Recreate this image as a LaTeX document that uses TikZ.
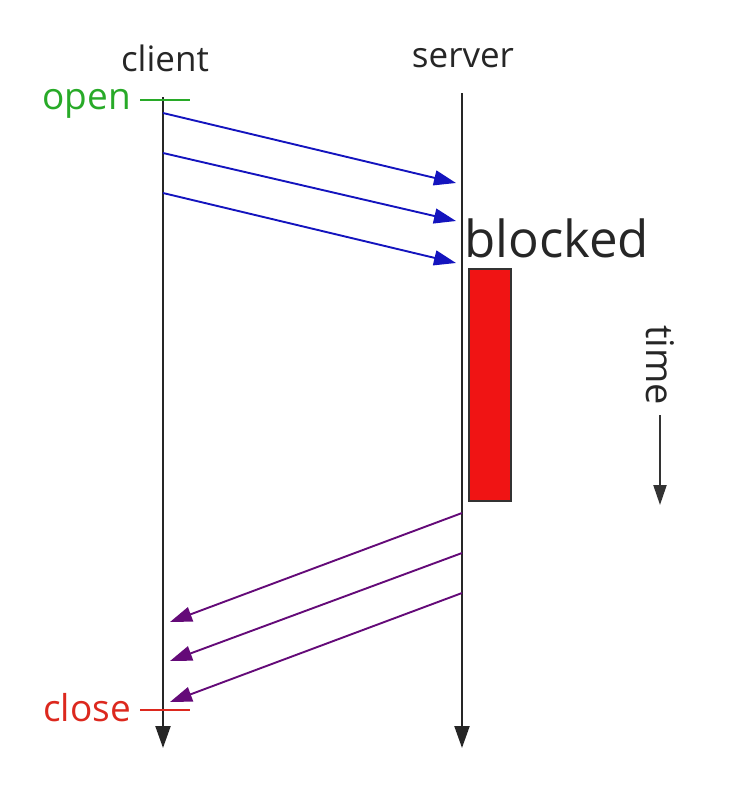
\documentclass[tikz,border=0pt]{standalone}
\usepackage{fontspec}
\setmainfont{Open Sans}
\usetikzlibrary{arrows.meta}
\definecolor{msgblue}{RGB}{20,20,190}
\definecolor{msgpurple}{RGB}{100,10,120}
\definecolor{opengreen}{RGB}{40,170,40}
\definecolor{closered}{RGB}{220,40,30}
\definecolor{blockred}{RGB}{240,20,20}
\begin{document}
\begin{tikzpicture}[x=1pt,y=-1pt,
  tip/.style={-{Triangle[length=22pt,width=15pt]}},
  lifeline/.style={draw=black!85,line width=2.2pt,tip},
  msgb/.style={draw=msgblue,line width=1.9pt,tip},
  msgp/.style={draw=msgpurple,line width=1.9pt,tip},
  lbl/.style={inner sep=0pt,font=\fontsize{35}{35}\selectfont},
]
\useasboundingbox (0,0) rectangle (740,790);
\node[lbl,text=black!85] (client) at (165,58) {client};
\node[lbl,text=black!85] (server) at (463,58) {server};
\coordinate (ctop) at (163,97);
\coordinate (cbot) at (163,748);
\coordinate (stop) at (462,93);
\coordinate (sbot) at (462,748);
\draw[lifeline] (ctop) -- (cbot);
\draw[lifeline] (stop) -- (sbot);
% open / close
\coordinate (o1) at (140,100); \coordinate (o2) at (190,100);
\draw[opengreen,line width=2.5pt] (o1) -- (o2);
\node[lbl,text=opengreen,anchor=east,font=\fontsize{37}{37}\selectfont] (open) at (131,104) {open};
\coordinate (c1) at (140,710); \coordinate (c2) at (190,710);
\draw[closered,line width=2.5pt] (c1) -- (c2);
\node[lbl,text=closered,anchor=east,font=\fontsize{37}{37}\selectfont] (close) at (131,708) {close};
% blue messages
\coordinate (b1s) at (163,113); \coordinate (b1e) at (456,183);
\coordinate (b2s) at (163,153); \coordinate (b2e) at (456,221);
\coordinate (b3s) at (163,193); \coordinate (b3e) at (456,263);
\draw[msgb] (b1s) -- (b1e);
\draw[msgb] (b2s) -- (b2e);
\draw[msgb] (b3s) -- (b3e);
% blocked
\node[inner sep=0pt,anchor=base west,font=\fontsize{51}{51}\selectfont,text=black!85] (blocked) at (464,257) {blocked};
\node[draw=black!80,fill=blockred,line width=1.5pt,minimum width=42pt,minimum height=232pt,inner sep=0pt,anchor=north west] (block) at (468,268) {};
% time
\node[lbl,text=black!85,rotate=-90,font=\fontsize{38}{38}\selectfont] (time) at (660,365) {time};
\coordinate (t1) at (660,415); \coordinate (t2) at (660,505);
\draw[draw=black!80,line width=2.2pt,-{Triangle[length=20pt,width=13pt]}] (t1) -- (t2);
% purple messages
\coordinate (p1s) at (462,513); \coordinate (p1e) at (170,622);
\coordinate (p2s) at (462,553); \coordinate (p2e) at (170,661);
\coordinate (p3s) at (462,593); \coordinate (p3e) at (170,702);
\draw[msgp] (p1s) -- (p1e);
\draw[msgp] (p2s) -- (p2e);
\draw[msgp] (p3s) -- (p3e);
\end{tikzpicture}
\end{document}
